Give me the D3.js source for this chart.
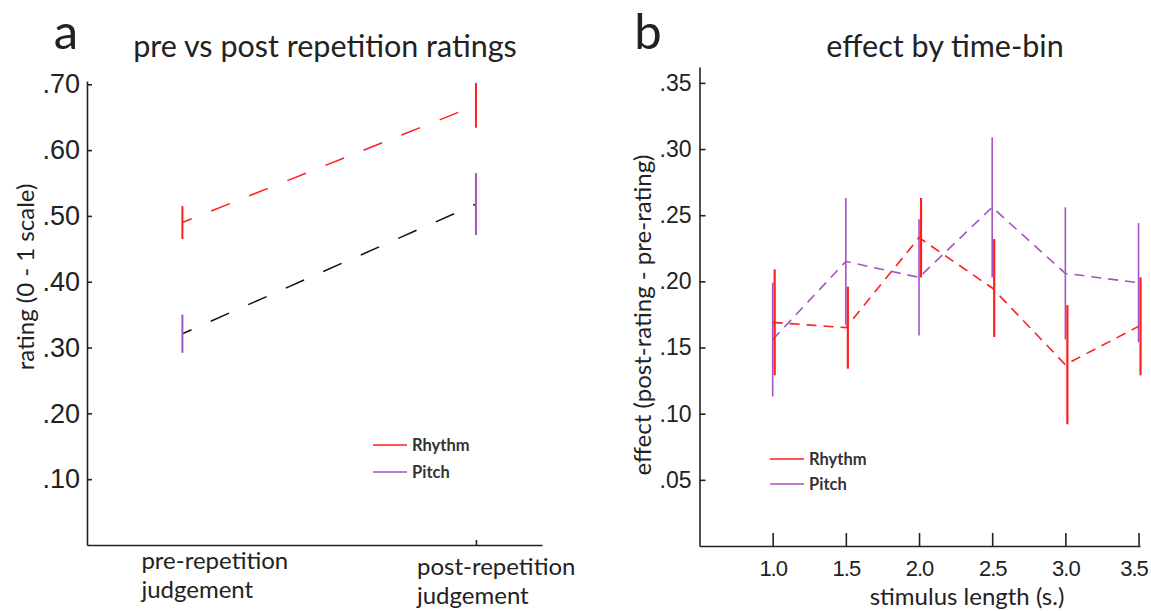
<!DOCTYPE html>
<html>
<head>
<meta charset="utf-8">
<script src="https://cdn.jsdelivr.net/npm/d3@7"></script>
<style>
  body { margin: 0; background: #fff; }
  svg { font-family: Lato, "Open Sans", sans-serif; }
  .axis path, .axis line { stroke: #222; stroke-width: 1.6; }
  .axis text { fill: #222; }
</style>
</head>
<body>
<svg id="chart" width="1151" height="611"></svg>
<script>
// panel a data
var conditions = ["pre", "post"];
var condLabels = [["pre-repetition", "judgement"], ["post-repetition", "judgement"]];
var rhythmA = [0.490, 0.668];
var rhythmAErr = [0.025, 0.034];
var pitchA = [0.321, 0.518];
var pitchAErr = [0.029, 0.047];
var ticksA = [0.10, 0.20, 0.30, 0.40, 0.50, 0.60, 0.70];

// panel b data
var lengths = [1.0, 1.5, 2.0, 2.5, 3.0, 3.5];
var rhythmB = [0.169, 0.165, 0.233, 0.195, 0.137, 0.166];
var rhythmBErr = [0.040, 0.031, 0.030, 0.037, 0.045, 0.037];
var pitchB = [0.156, 0.215, 0.203, 0.256, 0.206, 0.199];
var pitchBErr = [0.043, 0.048, 0.044, 0.053, 0.050, 0.045];
var ticksB = [0.05, 0.10, 0.15, 0.20, 0.25, 0.30, 0.35];

var RED = "#ff1f1f", PURPLE = "#a552c4", BLACK = "#111";
var fmtY = function(d){ return d3.format(".2f")(d).replace(/^0/, ""); };

var svg = d3.select("#chart");

// ---------- panel a ----------
var xa = d3.scaleLinear().domain([-0.325, 1.225]).range([87, 542]);
var ya = d3.scaleLinear().domain([0, 0.705]).range([545, 81]);

var ga = svg.append("g");
ga.append("g").attr("class", "axis")
  .attr("transform", "translate(" + xa.range()[0] + ",0)")
  .call(d3.axisLeft(ya).tickValues(ticksA).tickFormat(fmtY).tickSizeInner(-5).tickSizeOuter(0).tickPadding(7))
  .call(function(g){ g.selectAll("text").style("font-size", "27px"); });
ga.append("g").attr("class", "axis")
  .attr("transform", "translate(0," + ya(0) + ")")
  .call(d3.axisBottom(xa).tickValues([1]).tickFormat("").tickSizeInner(-5).tickSizeOuter(0));

// x labels (left aligned under each condition)
var labOff = [{dx: -41, dy: 0}, {dx: -59, dy: 6}];
conditions.forEach(function(c, i){
  var t = ga.append("text")
    .attr("x", xa(i) + labOff[i].dx)
    .attr("y", 569 + labOff[i].dy)
    .style("font-size", "24px").style("fill", "#222");
  condLabels[i].forEach(function(s, k){
    t.append("tspan").attr("x", xa(i) + labOff[i].dx).attr("dy", k === 0 ? 0 : 29).text(s);
  });
});

function seriesA(vals, errs, lineCol, barCol){
  ga.append("path")
    .datum(vals)
    .attr("fill", "none").attr("stroke", lineCol).attr("stroke-width", 1.5)
    .attr("stroke-dasharray", "20,21").attr("stroke-dashoffset", 10)
    .attr("d", d3.line().x(function(d, i){ return xa(i); }).y(function(d){ return ya(d); }));
  ga.selectAll(null).data(vals).enter().append("line")
    .attr("x1", function(d, i){ return xa(i); }).attr("x2", function(d, i){ return xa(i); })
    .attr("y1", function(d, i){ return ya(d - errs[i]); })
    .attr("y2", function(d, i){ return ya(d + errs[i]); })
    .attr("stroke", barCol).attr("stroke-width", 2);
}
seriesA(rhythmA, rhythmAErr, RED, RED);
seriesA(pitchA, pitchAErr, BLACK, PURPLE);

ga.append("text").attr("x", 66).attr("y", 49).attr("text-anchor", "middle")
  .style("font-size", "49px").style("fill", "#222").text("a");
ga.append("text").attr("x", 325).attr("y", 57).attr("text-anchor", "middle")
  .style("font-size", "30.5px").style("fill", "#222").text("pre vs post repetition ratings");
ga.append("text").attr("transform", "translate(34,277) rotate(-90)").attr("text-anchor", "middle")
  .style("font-size", "24px").style("fill", "#222").text("rating (0 - 1 scale)");

function legend(g, x, y, gap){
  [["Rhythm", RED], ["Pitch", PURPLE]].forEach(function(e, i){
    g.append("line").attr("x1", x).attr("x2", x + 34)
      .attr("y1", y + i * gap).attr("y2", y + i * gap)
      .attr("stroke", e[1]).attr("stroke-width", 1.6);
    g.append("text").attr("x", x + 39).attr("y", y + i * gap).attr("dy", "0.35em")
      .style("font-size", "16.5px").style("font-weight", "bold").style("fill", "#333").text(e[0]);
  });
}
legend(ga, 373, 445, 27);

// ---------- panel b ----------
var xb = d3.scaleLinear().domain([0.5, 3.51]).range([699.5, 1140]);
var yb = d3.scaleLinear().domain([0, 0.362]).range([546, 67]);

var gb = svg.append("g");
gb.append("g").attr("class", "axis")
  .attr("transform", "translate(" + xb.range()[0] + ",0)")
  .call(d3.axisLeft(yb).tickValues(ticksB).tickFormat(fmtY).tickSizeInner(-6).tickSizeOuter(0).tickPadding(8))
  .call(function(g){ g.selectAll("text").style("font-size", "23px"); });
gb.append("g").attr("class", "axis")
  .attr("transform", "translate(0," + yb(0) + ")")
  .call(d3.axisBottom(xb).tickValues(lengths).tickFormat(d3.format(".1f")).tickSizeInner(-13).tickSizeOuter(0).tickPadding(14))
  .call(function(g){
    g.selectAll("text").style("font-size", "22px").style("letter-spacing", "-1px");
    g.selectAll(".tick:last-of-type text").attr("dx", "-5");
  });

function seriesB(vals, errs, col, shift, bw){
  gb.append("path")
    .datum(vals)
    .attr("fill", "none").attr("stroke", col).attr("stroke-width", 1.6)
    .attr("stroke-dasharray", "10,7")
    .attr("d", d3.line().x(function(d, i){ return xb(lengths[i]); }).y(function(d){ return yb(d); }));
  gb.selectAll(null).data(vals).enter().append("line")
    .attr("x1", function(d, i){ return xb(lengths[i]) + shift; })
    .attr("x2", function(d, i){ return xb(lengths[i]) + shift; })
    .attr("y1", function(d, i){ return yb(d - errs[i]); })
    .attr("y2", function(d, i){ return yb(d + errs[i]); })
    .attr("stroke", col).attr("stroke-width", bw);
}
seriesB(pitchB, pitchBErr, PURPLE, 0, 1.6);
seriesB(rhythmB, rhythmBErr, RED, 2, 2.2);

gb.append("text").attr("x", 648).attr("y", 49).attr("text-anchor", "middle")
  .style("font-size", "49px").style("fill", "#222").text("b");
gb.append("text").attr("x", 945).attr("y", 57).attr("text-anchor", "middle")
  .style("font-size", "30.5px").style("fill", "#222").text("effect by time-bin");
gb.append("text").attr("x", 967).attr("y", 605).attr("text-anchor", "middle")
  .style("font-size", "24px").style("fill", "#222").text("stimulus length (s.)");
gb.append("text").attr("transform", "translate(651,315) rotate(-90)").attr("text-anchor", "middle")
  .style("font-size", "24px").style("fill", "#222").text("effect (post-rating - pre-rating)");

legend(gb, 770, 459, 25);
</script>
</body>
</html>
